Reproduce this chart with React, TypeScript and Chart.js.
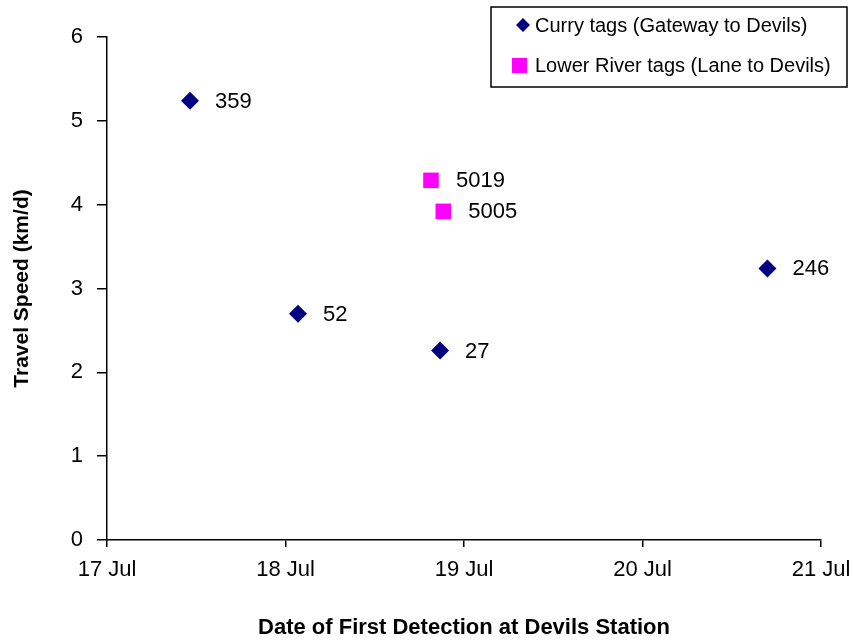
import React, { useEffect, useRef } from "react";
import { Chart, registerables } from "chart.js";

Chart.register(...registerables);

const xTickValues = [17, 18, 19, 20, 21];
const xTickLabels = ["17 Jul", "18 Jul", "19 Jul", "20 Jul", "21 Jul"];
const yTickValues = [0, 1, 2, 3, 4, 5, 6];

const curryTags = ["359", "52", "27", "246"];
const curryDates = [17.465, 18.07, 18.866, 20.7];
const currySpeeds = [5.24, 2.7, 2.26, 3.24];

const lowerTags = ["5019", "5005"];
const lowerDates = [18.815, 18.884];
const lowerSpeeds = [4.29, 3.92];

const seriesNames = ["Curry tags (Gateway to Devils)", "Lower River tags (Lane to Devils)"];
const xTitle = "Date of First Detection at Devils Station";
const yTitle = "Travel Speed (km/d)";

const FONT = "'Liberation Sans', Arial, sans-serif";
const NAVY = "#000080";
const MAGENTA = "#FF00FF";

export default function App() {
  const ref = useRef<HTMLCanvasElement>(null);

  useEffect(() => {
    if (!ref.current) return;
    const labelsPlugin = {
      id: "labelsAndLegend",
      afterDatasetsDraw(chart: any) {
        const ctx = chart.ctx;
        ctx.save();
        ctx.font = `22px ${FONT}`;
        ctx.fillStyle = "#000";
        ctx.textBaseline = "middle";
        ctx.textAlign = "left";
        chart.data.datasets.forEach((ds: any, i: number) => {
          const meta = chart.getDatasetMeta(i);
          meta.data.forEach((pt: any, j: number) => {
            ctx.fillText(ds.tagLabels[j], pt.x + 25, pt.y + 1);
          });
        });
        // legend box
        const bx = 491, by = 7, bw = 356, bh = 80;
        ctx.fillStyle = "#fff";
        ctx.fillRect(bx, by, bw, bh);
        ctx.lineWidth = 1.5;
        ctx.strokeStyle = "#000";
        ctx.strokeRect(bx, by, bw, bh);
        // items
        ctx.fillStyle = NAVY;
        ctx.beginPath();
        const dx = 523, dy = 25, r = 7;
        ctx.moveTo(dx, dy - r);
        ctx.lineTo(dx + r, dy);
        ctx.lineTo(dx, dy + r);
        ctx.lineTo(dx - r, dy);
        ctx.closePath();
        ctx.fill();
        ctx.fillStyle = MAGENTA;
        ctx.fillRect(512, 58, 15, 15);
        ctx.fillStyle = "#000";
        ctx.font = `20px ${FONT}`;
        ctx.fillText(seriesNames[0], 535, 26);
        ctx.fillText(seriesNames[1], 535, 66);
        ctx.restore();
      },
    };

    const chart = new Chart(ref.current, {
      type: "scatter",
      data: {
        datasets: [
          {
            label: seriesNames[0],
            data: curryDates.map((d, i) => ({ x: d, y: currySpeeds[i] })),
            pointStyle: "rectRot",
            pointRadius: 9,
            backgroundColor: NAVY,
            borderColor: NAVY,
            borderWidth: 0,
            tagLabels: curryTags,
          } as any,
          {
            label: seriesNames[1],
            data: lowerDates.map((d, i) => ({ x: d, y: lowerSpeeds[i] })),
            pointStyle: "rect",
            pointRadius: 11,
            backgroundColor: MAGENTA,
            borderColor: MAGENTA,
            borderWidth: 0,
            tagLabels: lowerTags,
          } as any,
        ],
      },
      options: {
        animation: false,
        responsive: false,
        maintainAspectRatio: false,
        layout: { padding: { top: 37, right: 32, left: 0, bottom: 0 } },
        plugins: { legend: { display: false }, tooltip: { enabled: false } },
        scales: {
          x: {
            type: "linear",
            min: 17,
            max: 21,
            afterBuildTicks(scale: any) {
              scale.ticks = xTickValues.map((v) => ({ value: v }));
            },
            afterFit(scale: any) {
              scale.height = 101;
              scale.paddingRight = 0;
              scale.paddingLeft = 0;
            },
            ticks: {
              callback: (v: any) => xTickLabels[xTickValues.indexOf(Number(v))] ?? "",
              font: { family: FONT, size: 22 },
              color: "#000",
              padding: 10,
              maxRotation: 0,
              autoSkip: false,
            },
            grid: { display: true, drawOnChartArea: false, drawTicks: true, tickLength: 7, color: "#000", lineWidth: 1.5 },
            border: { display: true, color: "#000", width: 1.5 },
            title: {
              display: true,
              text: xTitle,
              font: { family: FONT, size: 22, weight: "bold" },
              color: "#000",
              padding: { top: 0, bottom: 0 },
            },
          },
          y: {
            type: "linear",
            min: 0,
            max: 6,
            afterBuildTicks(scale: any) {
              scale.ticks = yTickValues.map((v) => ({ value: v }));
            },
            afterFit(scale: any) {
              scale.width = 107;
              scale.paddingTop = 0;
              scale.paddingBottom = 0;
            },
            ticks: {
              font: { family: FONT, size: 22 },
              color: "#000",
              padding: 14,
            },
            grid: { display: true, drawOnChartArea: false, drawTicks: true, tickLength: 10, color: "#000", lineWidth: 1.5 },
            border: { display: true, color: "#000", width: 1.5 },
            title: {
              display: true,
              text: yTitle,
              font: { family: FONT, size: 21, weight: "bold" },
              color: "#000",
              padding: { top: 10, bottom: 0 },
            },
          },
        },
      },
      plugins: [labelsPlugin],
    });
    return () => chart.destroy();
  }, []);

  return (
    <div style={{ position: "fixed", left: 0, top: 0, width: 853, height: 641, background: "#fff" }}>
      <canvas ref={ref} width={853} height={641} style={{ width: 853, height: 641 }} />
    </div>
  );
}
